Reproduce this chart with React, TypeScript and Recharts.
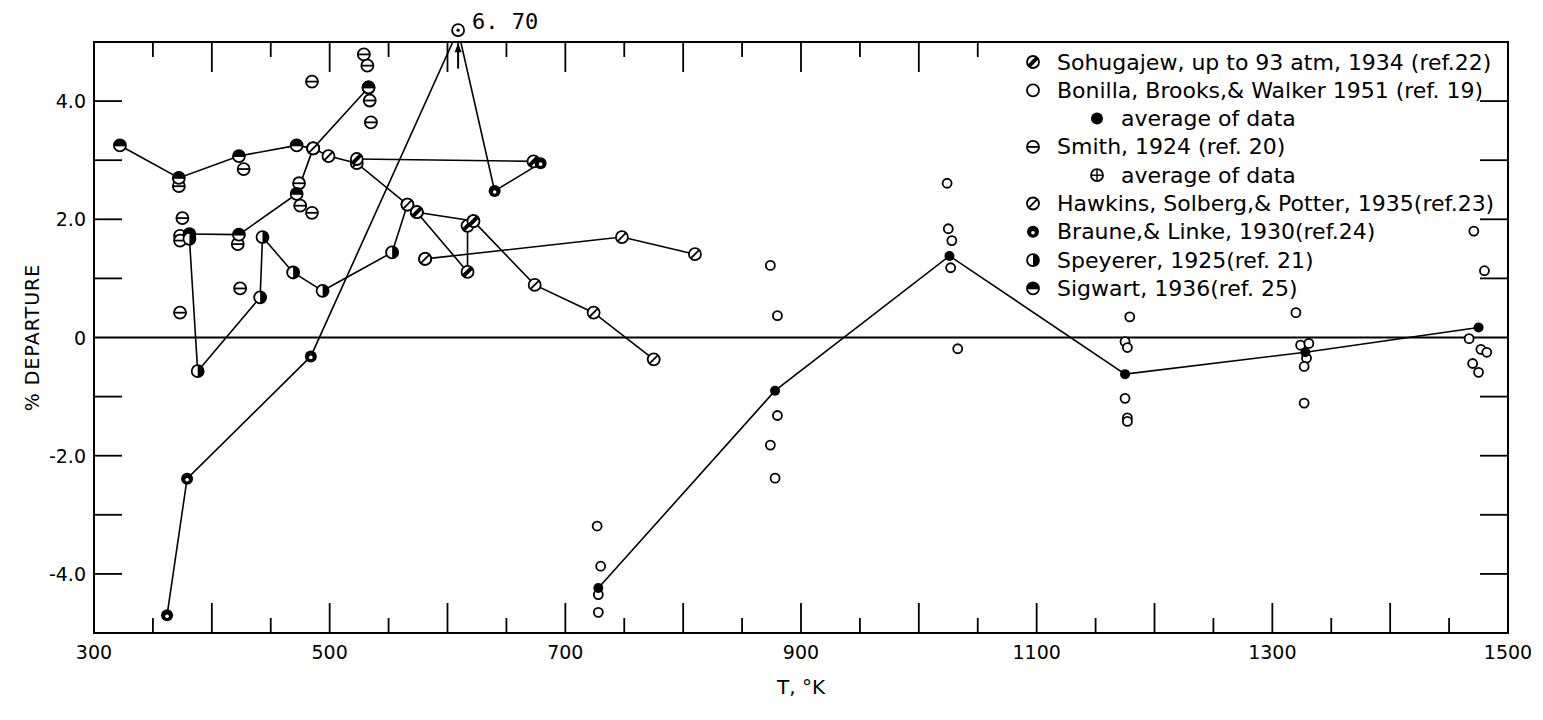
import {
  ComposedChart, Line, Scatter, XAxis, YAxis, ReferenceArea, ReferenceLine, ReferenceDot, Legend, Label
} from 'recharts'

const W = 1527
const H = 700
const MARGIN = { top: 34, right: 27, bottom: 45, left: 36 }
const Y_AXIS_W = 50
const X_AXIS_H = 30
const PLOT_W = W - MARGIN.left - MARGIN.right - Y_AXIS_W
const PLOT_H = H - MARGIN.top - MARGIN.bottom - X_AXIS_H
const FONT = '"DejaVu Sans", sans-serif'

// axes
const X_TICKS = [300, 350, 400, 450, 500, 550, 600, 650, 700, 750, 800, 850, 900, 950, 1000, 1050, 1100, 1150, 1200, 1250, 1300, 1350, 1400, 1450, 1500]
const X_LABELS = [300, 500, 700, 900, 1100, 1300, 1500]
const TOP_TICK_LIMIT = 1050
const Y_TICKS = [-4, -3, -2, -1, 0, 1, 2, 3, 4]
const Y_LABELS = [-4, -2, 0, 2, 4]

// Bonilla, Brooks & Walker 1951: single runs and their averages
const bonillaRuns = [
  { t: 727, d: -3.19 }, { t: 730, d: -3.87 }, { t: 728, d: -4.35 }, { t: 728, d: -4.65 },
  { t: 874, d: 1.22 }, { t: 880, d: 0.37 }, { t: 880, d: -1.32 }, { t: 874, d: -1.82 }, { t: 878, d: -2.38 },
  { t: 1024, d: 2.61 }, { t: 1025, d: 1.84 }, { t: 1028, d: 1.64 }, { t: 1027, d: 1.18 }, { t: 1033, d: -0.19 },
  { t: 1179, d: 0.35 }, { t: 1175, d: -0.07 }, { t: 1177, d: -0.17 }, { t: 1175, d: -1.03 }, { t: 1177, d: -1.36 }, { t: 1177, d: -1.42 },
  { t: 1320, d: 0.42 }, { t: 1324, d: -0.13 }, { t: 1331, d: -0.10 }, { t: 1329, d: -0.35 }, { t: 1327, d: -0.49 }, { t: 1327, d: -1.11 },
  { t: 1471, d: 1.80 }, { t: 1480, d: 1.13 }, { t: 1467, d: -0.02 }, { t: 1477, d: -0.20 }, { t: 1482, d: -0.25 }, { t: 1470, d: -0.44 }, { t: 1475, d: -0.59 },
]
const bonillaAvg = [
  { t: 728, d: -4.24 }, { t: 878, d: -0.90 }, { t: 1026, d: 1.38 }, { t: 1175, d: -0.62 }, { t: 1328, d: -0.25 }, { t: 1475, d: 0.17 },
]

// Smith 1924: single runs and averages
const smithRuns = [
  { t: 529, d: 4.79 }, { t: 532, d: 4.60 }, { t: 485, d: 4.33 }, { t: 534, d: 4.01 }, { t: 535, d: 3.64 },
  { t: 372, d: 2.56 }, { t: 427, d: 2.85 }, { t: 474, d: 2.61 }, { t: 475, d: 2.23 }, { t: 485, d: 2.11 },
  { t: 375, d: 2.02 }, { t: 373, d: 1.72 }, { t: 373, d: 1.64 }, { t: 422, d: 1.58 }, { t: 424, d: 0.83 }, { t: 373, d: 0.42 },
]
const smithAvg = [{ t: 533, d: 4.23 }, { t: 581, d: 1.33 }]

// connected series
const sigwart = [{ t: 322, d: 3.25 }, { t: 372, d: 2.70 }, { t: 423, d: 3.07 }, { t: 472, d: 3.25 }, { t: 486, d: 3.20 }, { t: 533, d: 4.23 }]
const sigwart2 = [{ t: 381, d: 1.75 }, { t: 423, d: 1.74 }, { t: 472, d: 2.43 }, { t: 486, d: 3.20 }]
const speyerer = [
  { t: 381, d: 1.67 }, { t: 388, d: -0.57 }, { t: 441, d: 0.68 }, { t: 443, d: 1.70 }, { t: 469, d: 1.10 },
  { t: 494, d: 0.79 }, { t: 553, d: 1.44 }, { t: 566, d: 2.25 },
]
const hawkins = [
  { t: 486, d: 3.20 }, { t: 499, d: 3.07 }, { t: 523, d: 2.95 }, { t: 566, d: 2.25 }, { t: 574, d: 2.12 },
  { t: 622, d: 1.97 }, { t: 674, d: 0.89 }, { t: 724, d: 0.42 }, { t: 775, d: -0.37 },
]
const hawkins2 = [{ t: 581, d: 1.33 }, { t: 748, d: 1.70 }, { t: 810, d: 1.41 }]
const sohugajew = [{ t: 574, d: 2.12 }, { t: 617, d: 1.11 }, { t: 617, d: 1.89 }, { t: 622, d: 1.97 }]
const sohugajew2 = [{ t: 523, d: 3.02 }, { t: 673, d: 2.98 }]
// the 6.70 point is drawn off scale, just above the frame
const OFFSCALE_T = 609
const OFFSCALE_DRAWN = 5.2
const OFFSCALE_LABEL = '6. 70'
const braune = [
  { t: 362, d: -4.7 }, { t: 379, d: -2.39 }, { t: 484, d: -0.32 }, { t: OFFSCALE_T, d: OFFSCALE_DRAWN },
  { t: 640, d: 2.48 }, { t: 679, d: 2.95 },
]

type Kind = 'open' | 'filled' | 'hbar' | 'plus' | 'slash' | 'bold' | 'braune' | 'ring' | 'halfR' | 'halfTop'

function Mark({ cx, cy, kind, r = 6 }: { cx?: number; cy?: number; kind: Kind; r?: number }) {
  if (cx == null || cy == null || isNaN(cx) || isNaN(cy)) return null
  const sw = 1.8
  const d = r * 0.72
  const ring = <circle cx={cx} cy={cy} r={r} fill="#fff" stroke="#000" strokeWidth={sw} />
  switch (kind) {
    case 'open':
      return ring
    case 'filled':
      return <circle cx={cx} cy={cy} r={r} fill="#000" />
    case 'hbar':
      return <g>{ring}<line x1={cx - r} y1={cy} x2={cx + r} y2={cy} stroke="#000" strokeWidth={sw} /></g>
    case 'plus':
      return (
        <g>{ring}
          <line x1={cx - r} y1={cy} x2={cx + r} y2={cy} stroke="#000" strokeWidth={1.4} />
          <line x1={cx} y1={cy - r} x2={cx} y2={cy + r} stroke="#000" strokeWidth={1.4} />
        </g>
      )
    case 'slash':
      return <g>{ring}<line x1={cx - d} y1={cy + d} x2={cx + d} y2={cy - d} stroke="#000" strokeWidth={sw} /></g>
    case 'bold':
      return <g>{ring}<line x1={cx - d} y1={cy + d} x2={cx + d} y2={cy - d} stroke="#000" strokeWidth={4} /></g>
    case 'braune':
      return <g><circle cx={cx} cy={cy} r={r} fill="#000" /><circle cx={cx} cy={cy + 1} r={r * 0.3} fill="#fff" /></g>
    case 'ring':
      return <g>{ring}<circle cx={cx} cy={cy} r={1.6} fill="#000" /></g>
    case 'halfR':
      return <g>{ring}<path d={`M${cx},${cy - r} A${r},${r} 0 0 1 ${cx},${cy + r} Z`} fill="#000" /></g>
    case 'halfTop':
      return (
        <g>{ring}
          <path d={`M${cx - r},${cy} A${r},${r} 0 0 1 ${cx + r},${cy} Z`} fill="#000" />
          <line x1={cx - r} y1={cy} x2={cx + r} y2={cy} stroke="#000" strokeWidth={sw} />
        </g>
      )
  }
  return null
}

const dotOf = (kind: Kind, r?: number) => (p: any) => <Mark key={`${kind}-${p.index}`} cx={p.cx} cy={p.cy} kind={kind} r={r} />
const shapeOf = (kind: Kind, r?: number) => (p: any) => <Mark cx={p.cx} cy={p.cy} kind={kind} r={r} />

const XTick = (props: any) => {
  const { x, y, payload } = props
  const v = payload.value
  const len = v % 100 === 0 ? 30 : 15
  const top = y - PLOT_H
  return (
    <g>
      <line x1={x} y1={y} x2={x} y2={y - len} stroke="#000" strokeWidth={1.8} />
      {v <= TOP_TICK_LIMIT && <line x1={x} y1={top} x2={x} y2={top + len} stroke="#000" strokeWidth={1.8} />}
      {X_LABELS.includes(v) && (
        <text x={x} y={y + 26} textAnchor="middle" fontFamily={FONT} fontSize={19} fill="#000">{v}</text>
      )}
    </g>
  )
}

const YTick = (props: any) => {
  const { x, y, payload } = props
  const v = payload.value
  const right = x + PLOT_W
  return (
    <g>
      {v !== 0 && <line x1={x} y1={y} x2={x + 28} y2={y} stroke="#000" strokeWidth={1.8} />}
      {v !== 0 && <line x1={right} y1={y} x2={right - 28} y2={y} stroke="#000" strokeWidth={1.8} />}
      {Y_LABELS.includes(v) && (
        <text x={x - 8} y={y} textAnchor="end" dominantBaseline="central" fontFamily={FONT} fontSize={19} fill="#000">
          {v === 0 ? '0' : v.toFixed(1)}
        </text>
      )}
    </g>
  )
}

const LEGEND_ROWS: { kind: Kind; text: string; indent: boolean }[] = [
  { kind: 'bold', text: 'Sohugajew, up to 93 atm, 1934 (ref.22)', indent: false },
  { kind: 'open', text: 'Bonilla, Brooks,& Walker 1951 (ref. 19)', indent: false },
  { kind: 'filled', text: 'average of data', indent: true },
  { kind: 'hbar', text: 'Smith, 1924 (ref. 20)', indent: false },
  { kind: 'plus', text: 'average of data', indent: true },
  { kind: 'slash', text: 'Hawkins, Solberg,& Potter, 1935(ref.23)', indent: false },
  { kind: 'braune', text: 'Braune,& Linke, 1930(ref.24)', indent: false },
  { kind: 'halfR', text: 'Speyerer, 1925(ref. 21)', indent: false },
  { kind: 'halfTop', text: 'Sigwart, 1936(ref. 25)', indent: false },
]

const renderLegend = () => (
  <svg width={520} height={270} style={{ overflow: 'visible' }}>
    {LEGEND_ROWS.map((row, i) => {
      const y = 22 + i * 28.3
      const mx = row.indent ? 92 : 28
      return (
        <g key={i}>
          <Mark cx={mx} cy={y} kind={row.kind} r={6} />
          <text x={mx + 24} y={y} dominantBaseline="central" fontFamily={FONT} fontSize={22} fill="#000">{row.text}</text>
        </g>
      )
    })}
  </svg>
)

const Arrow = (p: any) => {
  const { x1, y1, x2, y2 } = p
  return (
    <g>
      <line x1={x1} y1={y1} x2={x2} y2={y2} stroke="#000" strokeWidth={2} />
      <path d={`M${x2 - 3.5},${y2 + 9} L${x2},${y2} L${x2 + 3.5},${y2 + 9} Z`} fill="#000" />
    </g>
  )
}

const lineProps = { type: 'linear' as const, dataKey: 'd', stroke: '#000', strokeWidth: 1.6, isAnimationActive: false, legendType: 'none' as const }

export default function App() {
  return (
    <div style={{ width: W, height: H, background: '#fff' }}>
      <ComposedChart width={W} height={H} margin={MARGIN} style={{ overflow: 'visible' }}>
        <XAxis
          dataKey="t" type="number" domain={[300, 1500]} ticks={X_TICKS} interval={0}
          height={X_AXIS_H} axisLine={false} tickLine={false} tickSize={0} tickMargin={0} tick={<XTick />}
        >
          <Label value="T, °K" position="bottom" offset={17} style={{ fontFamily: FONT, fontSize: 20, fill: '#000' }} />
        </XAxis>
        <YAxis
          dataKey="d" type="number" domain={[-5, 5]} ticks={Y_TICKS} interval={0} allowDataOverflow
          width={Y_AXIS_W} axisLine={false} tickLine={false} tickSize={0} tickMargin={0} tick={<YTick />}
        >
          <Label
            content={(p: any) => {
              const vb = p.viewBox
              const x = vb.x - 12
              const y = vb.y + vb.height / 2
              return (
                <text x={x} y={y} transform={`rotate(-90 ${x} ${y})`} textAnchor="middle" dominantBaseline="central"
                  fontFamily={FONT} fontSize={19} letterSpacing={1} fill="#000">% DEPARTURE</text>
              )
            }}
          />
        </YAxis>
        <Legend layout="horizontal" verticalAlign="middle" align="center" content={renderLegend}
          wrapperStyle={{ position: 'absolute', left: 997, top: 32, width: 520, height: 270 }} />

        <ReferenceArea x1={300} x2={1500} y1={-5} y2={5} fill="none" stroke="#000" strokeWidth={2} ifOverflow="visible" />
        <ReferenceLine y={0} stroke="#000" strokeWidth={1.8} />

        <Line {...lineProps} data={bonillaAvg} dot={dotOf('filled', 5)} />
        <Line {...lineProps} data={sigwart} dot={dotOf('halfTop')} />
        <Line {...lineProps} data={sigwart2} dot={dotOf('halfTop')} />
        <Line {...lineProps} data={speyerer} dot={dotOf('halfR')} />
        <Line {...lineProps} data={hawkins} dot={dotOf('slash')} />
        <Line {...lineProps} data={hawkins2} dot={dotOf('slash')} />
        <Line {...lineProps} data={sohugajew} dot={dotOf('bold')} />
        <Line {...lineProps} data={sohugajew2} dot={dotOf('bold')} />
        <Line {...lineProps} data={braune} dot={dotOf('braune')} />

        <Scatter data={bonillaRuns} dataKey="d" isAnimationActive={false} shape={shapeOf('open', 4.5)} legendType="none" />
        <Scatter data={smithRuns} dataKey="d" isAnimationActive={false} shape={shapeOf('hbar')} legendType="none" />
        <Scatter data={smithAvg} dataKey="d" isAnimationActive={false} shape={shapeOf('plus')} legendType="none" />

        <ReferenceLine segment={[{ x: OFFSCALE_T, y: 4.55 }, { x: OFFSCALE_T, y: 4.98 }]} ifOverflow="visible" shape={Arrow} />
        <ReferenceDot
          x={OFFSCALE_T} y={OFFSCALE_DRAWN} r={6} ifOverflow="visible"
          shape={(p: any) => <Mark cx={p.cx} cy={p.cy} kind="ring" r={6} />}
          label={(p: any) => {
            const vb = p.viewBox
            return (
              <text x={vb.x + vb.width + 8} y={vb.y - 3} dominantBaseline="central"
                fontFamily='"DejaVu Sans Mono", monospace' fontSize={22} fill="#000">
                {OFFSCALE_LABEL}
              </text>
            )
          }}
        />
      </ComposedChart>
    </div>
  )
}
